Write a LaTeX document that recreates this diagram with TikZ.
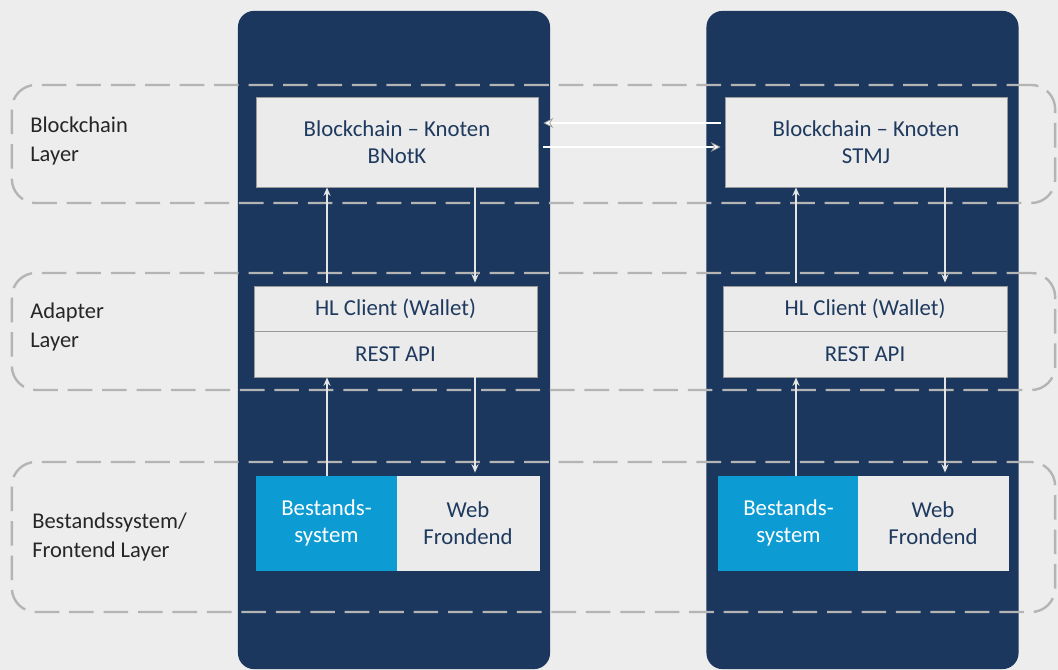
\documentclass[tikz,border=0pt]{standalone}
\usepackage{fontspec}
\setmainfont{Carlito}
\usepackage{xcolor}
\usetikzlibrary{arrows.meta}

\definecolor{bgGray}{HTML}{EDEDED}
\definecolor{colNavy}{HTML}{1B375E}
\definecolor{sysBlue}{HTML}{0C9BD2}
\definecolor{boxFill}{HTML}{EBEBEB}
\definecolor{boxLine}{HTML}{9A9A9A}
\definecolor{dashGray}{HTML}{B4B4B4}
\definecolor{txtNavy}{HTML}{1F3A5F}

\begin{document}
\begin{tikzpicture}[x=0.025cm, y=-0.025cm,
	column/.style={fill=colNavy, rounded corners=0.4cm, minimum width=7.8cm, minimum height=16.45cm, inner sep=0pt},
	layer/.style={draw=dashGray, line width=1.7pt, dash pattern=on 17.5pt off 7pt, rounded corners=0.6cm, minimum width=26.075cm, inner sep=0pt},
	box/.style={fill=boxFill, draw=boxLine, line width=0.5pt, inner sep=0pt, text=txtNavy, align=center, font=\fontsize{16.2}{19.5}\selectfont},
	sysbox/.style={box, fill=sysBlue, draw=sysBlue, text=white},
	layertext/.style={anchor=west, align=left, inner sep=0pt, text=black!85, font=\fontsize{16}{20}\selectfont},
	flow/.style={draw=white!90!black, line width=1.1pt, -{Stealth[length=6pt, width=5pt]}},
	link/.style={draw=boxLine, double=white, double distance=1pt, line width=0.5pt, -{Stealth[length=7pt, width=7pt, fill=white]}}]

	\fill[bgGray] (0,0) rectangle (1058,670);
	\useasboundingbox (0,0) rectangle (1058,670);

	% Spalten
	\node[column] (colL) at (394,340) {};
	\node[column] (colR) at (862.5,340) {};

	% Schichten
	\node[layer, minimum height=2.95cm] (layBC) at (533.5,144) {};
	\node[layer, minimum height=2.925cm] (layAD) at (533.5,331.5) {};
	\node[layer, minimum height=3.75cm] (layFE) at (533.5,537) {};

	\node[layertext] (txtBC) at (30,141) {Blockchain\\Layer};
	\node[layertext] (txtAD) at (30,327) {Adapter\\Layer};
	\node[layertext] (txtFE) at (32,537) {Bestandssystem/\\Frontend Layer};

	% BNotK
	\node[box, minimum width=7.05cm, minimum height=2.25cm] (bcL) at (397,142) {Blockchain -- Knoten\\BNotK};
	\node[box, minimum width=7.075cm, minimum height=1.125cm] (hlL) at (395.5,308.5) {HL Client (Wallet)};
	\node[box, minimum width=7.075cm, minimum height=1.15cm] (restL) at (395.5,354) {REST API};
	\node[sysbox, minimum width=3.525cm, minimum height=2.35cm] (bsL) at (326.5,523) {Bestands-\\system};
	\node[box, draw=boxFill, minimum width=3.55cm, minimum height=2.35cm] (wfL) at (468,523) {Web\\Frondend};

	% STMJ
	\node[box, minimum width=7.05cm, minimum height=2.25cm] (bcR) at (866,142) {Blockchain -- Knoten\\STMJ};
	\node[box, minimum width=7.1cm, minimum height=1.125cm] (hlR) at (865,308.5) {HL Client (Wallet)};
	\node[box, minimum width=7.1cm, minimum height=1.15cm] (restR) at (865,354) {REST API};
	\node[sysbox, minimum width=3.5cm, minimum height=2.35cm] (bsR) at (788.5,523) {Bestands-\\system};
	\node[box, draw=boxFill, minimum width=3.75cm, minimum height=2.35cm] (wfR) at (933,523) {Web\\Frondend};

	% Pfeile
	\coordinate (upL) at (327,0);
	\coordinate (dnL) at (475,0);
	\coordinate (upR) at (796,0);
	\coordinate (dnR) at (945,0);

	\draw[flow] ([yshift=0.075cm]hlL.north -| upL) -- (bcL.south -| upL);
	\draw[flow] (bcL.south -| dnL) -- ([yshift=0.075cm]hlL.north -| dnL);
	\draw[flow] (bsL.north -| upL) -- (restL.south -| upL);
	\draw[flow] (restL.south -| dnL) -- ([yshift=0.075cm]wfL.north -| dnL);

	\draw[flow] ([yshift=0.075cm]hlR.north -| upR) -- (bcR.south -| upR);
	\draw[flow] (bcR.south -| dnR) -- ([yshift=0.075cm]hlR.north -| dnR);
	\draw[flow] (bsR.north -| upR) -- (restR.south -| upR);
	\draw[flow] (restR.south -| dnR) -- ([yshift=0.075cm]wfR.north -| dnR);

	\draw[link] ([xshift=-0.1cm, yshift=0.475cm]bcR.west) -- ([xshift=0.125cm, yshift=0.475cm]bcL.east);
	\draw[link] ([xshift=0.125cm, yshift=-0.125cm]bcL.east) -- ([xshift=-0.1cm, yshift=-0.125cm]bcR.west);
\end{tikzpicture}
\end{document}
